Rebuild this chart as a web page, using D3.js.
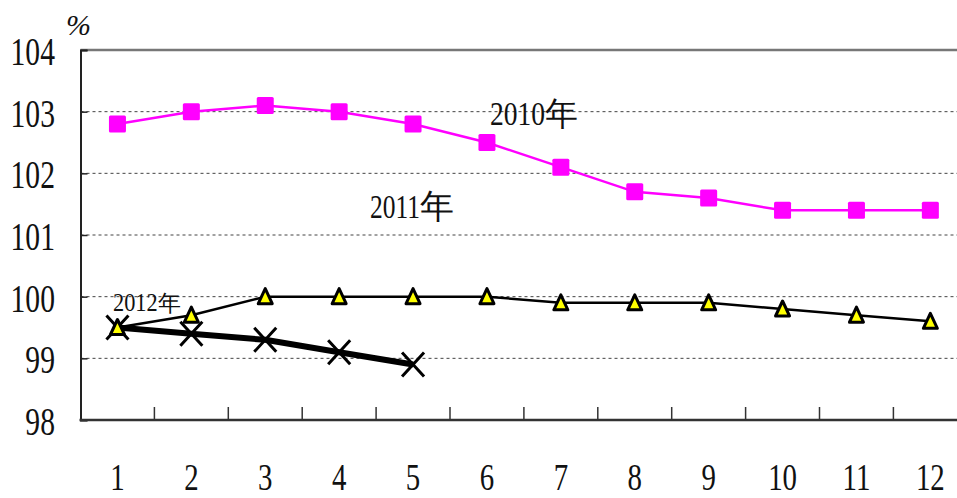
<!DOCTYPE html>
<html>
<head>
<meta charset="utf-8">
<script src="https://cdn.jsdelivr.net/npm/d3@7"></script>
<style>
  html, body { margin: 0; padding: 0; background: #fff; }
  svg { display: block; }
  svg text { font-family: "Liberation Serif", "Times New Roman", "DejaVu Serif", serif; }
</style>
</head>
<body>
<svg id="chart" width="957" height="498"></svg>
<script>
// Months on the x axis
const months = ["1", "2", "3", "4", "5", "6", "7", "8", "9", "10", "11", "12"];
// Y axis tick values (%)
const yTicks = [98, 99, 100, 101, 102, 103, 104];
// Index values by month
const values2010 = [102.8, 103.0, 103.1, 103.0, 102.8, 102.5, 102.1, 101.7, 101.6, 101.4, 101.4, 101.4];
const values2011 = [99.5, 99.7, 100.0, 100.0, 100.0, 100.0, 99.9, 99.9, 99.9, 99.8, 99.7, 99.6];
const values2012 = [99.5, 99.4, 99.3, 99.1, 98.9];

const svg = d3.select("#chart");

const plotLeft = 80.5, plotTop = 50, plotBottom = 420, bandW = 73.9;
const x = d3.scaleBand().domain(months).range([plotLeft, plotLeft + bandW * months.length]);
const y = d3.scaleLinear().domain([98, 104]).range([plotBottom, plotTop]);
const cx = m => x(m) + x.bandwidth() / 2;

// Dotted gridlines
svg.append("g").selectAll("line")
  .data(yTicks.filter(v => v > 98 && v < 104))
  .join("line")
  .attr("x1", plotLeft).attr("x2", 957)
  .attr("y1", d => y(d)).attr("y2", d => y(d))
  .attr("stroke", "#444").attr("stroke-width", 1).attr("stroke-dasharray", "3,3");

// Top frame line
svg.append("line").attr("x1", plotLeft).attr("x2", 957).attr("y1", y(104)).attr("y2", y(104))
  .attr("stroke", "#777").attr("stroke-width", 2.5);

// Left axis with inward ticks
const yAxis = svg.append("g").attr("transform", `translate(${plotLeft},0)`)
  .call(d3.axisRight(y).tickValues(yTicks).tickSize(7).tickFormat(""));
yAxis.select(".domain").attr("stroke", "#222").attr("stroke-width", 2);
yAxis.selectAll(".tick line").attr("stroke", "#222").attr("stroke-width", 1.5);

// Bottom axis with upward ticks at category boundaries
const boundaries = d3.range(1, months.length).map(i => plotLeft + i * bandW);
svg.append("line").attr("x1", plotLeft - 1).attr("x2", 957).attr("y1", plotBottom).attr("y2", plotBottom)
  .attr("stroke", "#333").attr("stroke-width", 2.5);
svg.append("g").selectAll("line").data(boundaries).join("line")
  .attr("x1", d => d).attr("x2", d => d).attr("y1", plotBottom).attr("y2", plotBottom - 13)
  .attr("stroke", "#333").attr("stroke-width", 1.5);

// Condensed serif text helper
function label(txt, px, py, size, sx, anchor) {
  svg.append("text")
    .attr("transform", `translate(${px},${py}) scale(${sx},1)`)
    .attr("text-anchor", anchor)
    .style("font-size", size + "px").attr("fill", "#111")
    .text(txt);
}

// Y tick labels
yTicks.forEach(v => label(v, 55, y(v) + 15, 39, 0.76, "end"));
// X tick labels
months.forEach(m => label(m, cx(m), 489.5, 37, 0.78, "middle"));
// Unit
svg.append("text").attr("x", 66).attr("y", 35)
  .style("font-style", "italic").style("font-size", "30px")
  .attr("fill", "#111").text("%");

// Series lines
const line = d3.line().x((d, i) => cx(months[i])).y(d => y(d));

svg.append("path").datum(values2012).attr("d", line)
  .attr("fill", "none").attr("stroke", "#000").attr("stroke-width", 6);
svg.append("g").selectAll("path").data(values2012).join("path")
  .attr("transform", (d, i) => `translate(${cx(months[i])},${y(d)})`)
  .attr("d", "M-11,-12L11,12M-11,12L11,-12")
  .attr("stroke", "#000").attr("stroke-width", 3).attr("fill", "none");

svg.append("path").datum(values2011).attr("d", line)
  .attr("fill", "none").attr("stroke", "#000").attr("stroke-width", 2.5);
svg.append("g").selectAll("path").data(values2011).join("path")
  .attr("transform", (d, i) => `translate(${cx(months[i])},${y(d)})`)
  .attr("d", "M0,-8L7,7L-7,7Z")
  .attr("stroke", "#000").attr("stroke-width", 3).attr("stroke-linejoin", "round")
  .attr("fill", "#ffff00");

svg.append("path").datum(values2010).attr("d", line)
  .attr("fill", "none").attr("stroke", "#ff00ff").attr("stroke-width", 2.5);
svg.append("g").selectAll("rect").data(values2010).join("rect")
  .attr("x", (d, i) => cx(months[i]) - 8.5).attr("y", d => y(d) - 8.5)
  .attr("width", 17).attr("height", 17).attr("rx", 1.5)
  .attr("fill", "#ff00ff");

// Series labels: condensed digits followed by 年
function yearLabel(num, px, py, size, sx, cjkSize) {
  const t = svg.append("text")
    .attr("transform", `translate(${px},${py}) scale(${sx},1)`)
    .style("font-size", size + "px").attr("fill", "#111")
    .text(num);
  const w = t.node().getComputedTextLength() * sx;
  svg.append("text").attr("x", px + w).attr("y", py)
    .style("font-size", cjkSize + "px").attr("fill", "#111")
    .text("年");
}
yearLabel("2010", 490, 125, 34, 0.81, 33);
yearLabel("2011", 370, 218, 34, 0.75, 34);
yearLabel("2012", 113, 311, 26, 0.86, 23);
</script>
</body>
</html>
